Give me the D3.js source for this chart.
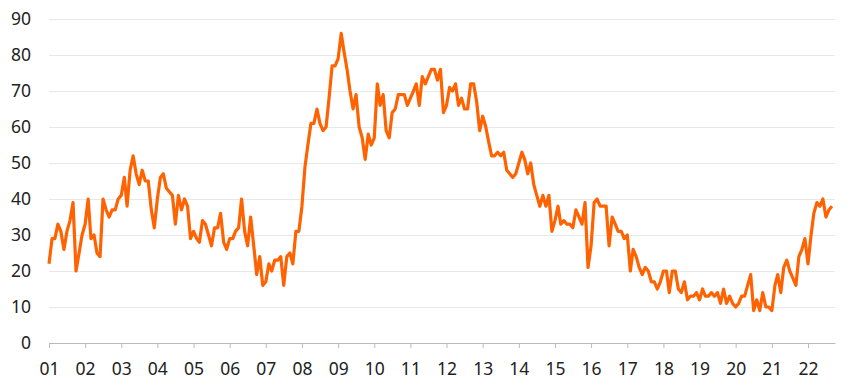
<!DOCTYPE html>
<html>
<head>
<meta charset="utf-8">
<script src="https://cdn.jsdelivr.net/npm/d3@7"></script>
<style>
  body { margin: 0; background: #fff; }
  text { font-family: "Noto Sans", sans-serif; }
</style>
</head>
<body>
<div id="chart"></div>
<script>
const width = 850;
const height = 387;

const marginLeft = 49;
const marginRight = 15;
const marginTop = 19;
const marginBottom = 44;

// monthly values, Jan 2001 - Sep 2022, one line per year
const values = [
  22, 29, 29, 33, 31, 26, 31, 34, 39, 20, 25, 30,
  33, 40, 29, 30, 25, 24, 40, 37, 35, 37, 37, 40,
  41, 46, 38, 48, 52, 47, 44, 48, 45, 45, 37, 32,
  40, 46, 47, 43, 42, 41, 33, 41, 37, 40, 38, 29,
  31, 29, 28, 34, 33, 30, 27, 32, 32, 36, 28, 26,
  29, 29, 31, 32, 40, 31, 27, 35, 27, 19, 24, 16,
  17, 22, 20, 23, 23, 24, 16, 24, 25, 22, 31, 31,
  38, 49, 55, 61, 61, 65, 61, 59, 60, 68, 77, 77,
  79, 86, 81, 76, 70, 65, 69, 60, 57, 51, 58, 55,
  57, 72, 66, 69, 59, 57, 64, 65, 69, 69, 69, 66,
  68, 70, 72, 66, 74, 72, 74, 76, 76, 73, 76, 64,
  66, 71, 70, 72, 66, 68, 65, 65, 72, 72, 67, 59,
  63, 60, 56, 52, 52, 53, 52, 53, 48, 47, 46, 47,
  50, 53, 51, 47, 50, 44, 41, 38, 41, 38, 41, 31,
  34, 38, 33, 34, 33, 33, 32, 37, 35, 33, 39, 21,
  27, 39, 40, 38, 38, 38, 27, 35, 33, 31, 31, 29,
  30, 20, 26, 24, 21, 19, 21, 20, 17, 17, 15, 17,
  20, 20, 14, 20, 20, 15, 14, 17, 12, 13, 13, 14,
  12, 15, 13, 13, 14, 13, 14, 11, 15, 11, 13, 11,
  10, 11, 13, 13, 16, 19,  9, 12,  9, 14, 10, 10,
   9, 16, 19, 14, 21, 23, 20, 18, 16, 24, 26, 29,
  22, 30, 36, 39, 38, 40, 35, 37, 38
];
const startDate = new Date(2001, 0, 1);
const endDate = new Date(2022, 9, 1);

const yearTicks = d3.range(2001, 2023);
const yTicks = [0, 10, 20, 30, 40, 50, 60, 70, 80, 90];

const data = values.map((v, i) => ({ date: d3.timeMonth.offset(startDate, i), value: v }));

const svg = d3.select("#chart").append("svg")
  .attr("width", width).attr("height", height);

const x = d3.scaleTime()
  .domain([startDate, endDate])
  .range([marginLeft, width - marginRight]);

const y = d3.scaleLinear()
  .domain([0, 90])
  .range([height - marginBottom, marginTop]);

// gridlines + y labels
const yAxis = svg.append("g")
  .attr("transform", `translate(${marginLeft},0)`)
  .call(d3.axisLeft(y).tickValues(yTicks).tickSize(-(width - marginLeft - marginRight)).tickPadding(18));
yAxis.select(".domain").remove();
yAxis.selectAll(".tick line").attr("stroke", "#e8e8e8");
yAxis.selectAll(".tick text").attr("font-size", 17.5).attr("fill", "#222");

// bottom axis
const xAxis = svg.append("g")
  .attr("transform", `translate(0,${height - marginBottom})`)
  .call(d3.axisBottom(x)
    .tickValues(yearTicks.map(yr => new Date(yr, 0, 1)))
    .tickFormat(d3.timeFormat("%y"))
    .tickSize(5).tickSizeOuter(0).tickPadding(15));
xAxis.select(".domain").attr("stroke", "#bbb");
xAxis.selectAll(".tick line").attr("stroke", "#bbb");
xAxis.selectAll(".tick text").attr("font-size", 17.5).attr("fill", "#222");

// line
svg.append("path")
  .datum(data)
  .attr("fill", "none")
  .attr("stroke", "#ff6200")
  .attr("stroke-width", 3.2)
  .attr("stroke-linejoin", "round")
  .attr("d", d3.line().x(d => x(d.date)).y(d => y(d.value)));
</script>
</body>
</html>
